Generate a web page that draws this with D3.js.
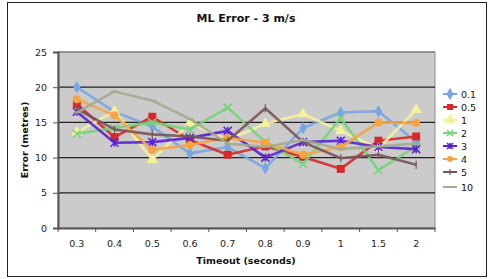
<!DOCTYPE html>
<html>
<head>
<meta charset="utf-8">
<style>
  body { margin: 0; background: #fff; }
  svg text { font-family: "DejaVu Sans", Verdana, sans-serif; fill: #111; }
  .tick text { font-size: 9.5px; fill: #222; }
</style>
</head>
<body>
<svg id="chart" width="492" height="279"></svg>
<script src="https://cdn.jsdelivr.net/npm/d3@7/dist/d3.min.js"></script>
<script>
var categories = ["0.3", "0.4", "0.5", "0.6", "0.7", "0.8", "0.9", "1", "1.5", "2"];
var yTicks = [0, 5, 10, 15, 20, 25];

var s01 = [20, 16.5, 14.4, 10.6, 11.5, 8.5, 14.2, 16.4, 16.6, 12.2];
var s05 = [17.6, 12.9, 15.8, 12.5, 10.4, 11.6, 10.1, 8.4, 12.4, 13];
var s1  = [13.6, 16.6, 9.7, 14.9, 12.5, 14.8, 16.2, 13.8, 11.3, 16.8];
var s2  = [13.4, 14.2, 15, 14, 17.1, 12.2, 9.1, 15.6, 8.2, 11.6];
var s3  = [16.5, 12.1, 12.2, 12.8, 13.8, 10, 12.2, 12.4, 11.5, 11.2];
var s4  = [18.3, 16, 11.1, 11.8, 12.8, 12.1, 10.4, 11.5, 15, 14.9];
var s5  = [16.9, 14, 13.3, 13, 12.4, 17, 12.2, 9.9, 10.4, 9];
var s10 = [16.4, 19.4, 18.1, 15.5, 12, 11.5, 12.5, 11.2, 11.6, 12];

var series = [
  { name: "0.1", values: s01, color: "#78a6e2", marker: "diamond" },
  { name: "0.5", values: s05, color: "#d62a2a", marker: "square" },
  { name: "1",   values: s1,  color: "#f6f29c", marker: "triangle" },
  { name: "2",   values: s2,  color: "#76d37a", marker: "cross" },
  { name: "3",   values: s3,  color: "#5a22d2", marker: "star" },
  { name: "4",   values: s4,  color: "#f5a443", marker: "circle" },
  { name: "5",   values: s5,  color: "#7a5458", marker: "plus" },
  { name: "10",  values: s10, color: "#a3ab92", marker: "dash" }
];

var svg = d3.select("#chart");

// outer frame
svg.append("rect").attr("x", 7.5).attr("y", 2.5).attr("width", 479).attr("height", 274)
  .attr("fill", "#fff").attr("stroke", "#222").attr("stroke-width", 1);

var m = { left: 58, top: 52, right: 435, bottom: 228 };

var x = d3.scaleBand().domain(categories).range([m.left, m.right]);
var y = d3.scaleLinear().domain([0, 25]).range([m.bottom, m.top]);

// plot area
svg.append("rect").attr("x", m.left).attr("y", m.top)
  .attr("width", m.right - m.left).attr("height", m.bottom - m.top)
  .attr("fill", "#cbcbcb").attr("stroke", "#8a8a8a").attr("stroke-width", 1);

// gridlines
svg.append("g").selectAll("line").data(yTicks.filter(function(d) { return d > 0; }))
  .enter().append("line")
  .attr("x1", m.left).attr("x2", m.right)
  .attr("y1", function(d) { return y(d); }).attr("y2", function(d) { return y(d); })
  .attr("stroke", function(d) { return d === 25 ? "#777" : "#222"; })
  .attr("stroke-width", 1.2);

// y axis
var yAxis = svg.append("g").attr("transform", "translate(" + m.left + ",0)")
  .call(d3.axisLeft(y).tickValues(yTicks).tickSize(5).tickPadding(6));
yAxis.select(".domain").attr("stroke", "#555").attr("stroke-width", 2);
yAxis.selectAll(".tick line").attr("stroke", "#555");

// x axis
var xAxis = svg.append("g").attr("transform", "translate(0," + m.bottom + ")")
  .call(d3.axisBottom(x).tickSize(0).tickPadding(12));
xAxis.select(".domain").attr("stroke", "#555").attr("stroke-width", 2);
xAxis.selectAll(".edge").data(categories.concat([""]))
  .enter().append("line").attr("class", "edge")
  .attr("x1", function(d, i) { return m.left + i * x.step(); })
  .attr("x2", function(d, i) { return m.left + i * x.step(); })
  .attr("y1", 0).attr("y2", 4).attr("stroke", "#555");

// titles
svg.append("text").attr("x", 246).attr("y", 22).attr("text-anchor", "middle")
  .attr("font-size", 11).attr("font-weight", "bold").text("ML Error - 3 m/s");
svg.append("text").attr("x", 246).attr("y", 264).attr("text-anchor", "middle")
  .attr("font-size", 9.5).attr("font-weight", "bold").text("Timeout (seconds)");
svg.append("text").attr("transform", "translate(28,140) rotate(-90)").attr("text-anchor", "middle")
  .attr("font-size", 9.5).attr("font-weight", "bold").text("Error (metres)");

function drawMarker(g, type, color, size) {
  var s = size;
  if (type === "diamond") {
    g.append("path").attr("d", d3.symbol(d3.symbolDiamond, 45)()).attr("fill", color);
  } else if (type === "square") {
    g.append("rect").attr("x", -s).attr("y", -s).attr("width", 2 * s).attr("height", 2 * s).attr("fill", color);
  } else if (type === "triangle") {
    g.append("path").attr("d", d3.symbol(d3.symbolTriangle, 55)()).attr("fill", color);
  } else if (type === "circle") {
    g.append("circle").attr("r", s).attr("fill", color);
  } else if (type === "cross") {
    g.append("path").attr("d", "M" + (-s) + "," + (-s) + "L" + s + "," + s + "M" + (-s) + "," + s + "L" + s + "," + (-s))
      .attr("stroke", color).attr("stroke-width", 1.5);
  } else if (type === "star") {
    g.append("path").attr("d", "M" + (-s) + "," + (-s) + "L" + s + "," + s + "M" + (-s) + "," + s + "L" + s + "," + (-s) + "M0," + (-s) + "L0," + s)
      .attr("stroke", color).attr("stroke-width", 1.5);
  } else if (type === "plus") {
    g.append("path").attr("d", "M0," + (-s) + "L0," + s).attr("stroke", color).attr("stroke-width", 1.2);
  } else if (type === "dash") {
    g.append("path").attr("d", "M" + (-s) + ",0L" + s + ",0").attr("stroke", color).attr("stroke-width", 1.5);
  }
}

var line = d3.line()
  .x(function(d, i) { return x(categories[i]) + x.bandwidth() / 2; })
  .y(function(d) { return y(d); });

series.forEach(function(sr) {
  var g = svg.append("g");
  g.append("path").datum(sr.values).attr("d", line)
    .attr("fill", "none").attr("stroke", sr.color).attr("stroke-width", 2.6)
    .attr("stroke-linejoin", "round").attr("opacity", 0.9);
  g.selectAll(".mk").data(sr.values).enter().append("g").attr("class", "mk")
    .attr("transform", function(d, i) { return "translate(" + (x(categories[i]) + x.bandwidth() / 2) + "," + y(d) + ")"; })
    .each(function() { drawMarker(d3.select(this), sr.marker, sr.color, 4); });
});

// legend
var legend = svg.append("g").attr("transform", "translate(443,94)");
series.forEach(function(sr, i) {
  var row = legend.append("g").attr("transform", "translate(0," + (i * 13 + (i === 7 ? 2 : 0)) + ")");
  row.append("line").attr("x1", 0).attr("x2", 14).attr("stroke", sr.color).attr("stroke-width", 2);
  var mg = row.append("g").attr("transform", "translate(7,0)");
  drawMarker(mg, sr.marker, sr.color, 3);
  row.append("text").attr("x", 18).attr("y", 3.5).attr("font-size", 9.5).text(sr.name);
});
</script>
</body>
</html>
